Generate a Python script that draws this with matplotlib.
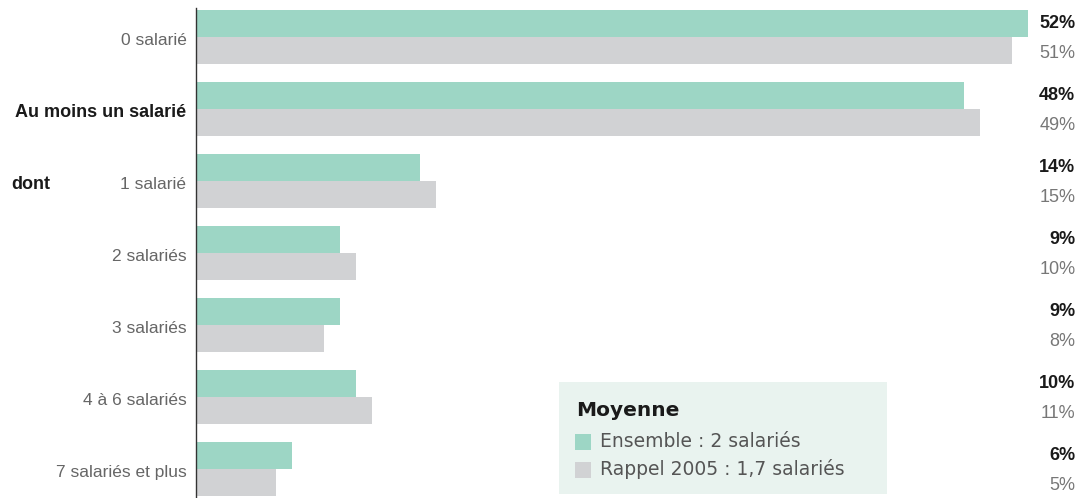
import matplotlib
matplotlib.use("Agg")
import matplotlib.pyplot as plt
import matplotlib.patches as mpatches

categories = ["0 salarié", "Au moins un salarié", "1 salarié", "2 salariés",
              "3 salariés", "4 à 6 salariés", "7 salariés et plus"]
ensemble = [52, 48, 14, 9, 9, 10, 6]
rappel_2005 = [51, 49, 15, 10, 8, 11, 5]
bold_rows = [1]

green = "#9dd6c5"
grey = "#d1d2d4"
narrow = ["Liberation Sans Narrow", "Liberation Sans", "DejaVu Sans"]

fig = plt.figure(figsize=(10.78, 4.98), dpi=100)
ax = fig.add_axes([196 / 1078, 0, 882 / 1078, 490 / 498])

h = 0.375
ys = list(range(len(categories)))
ax.barh([y - h / 2 for y in ys], ensemble, height=h, color=green)
ax.barh([y + h / 2 for y in ys], rappel_2005, height=h, color=grey)

ax.set_xlim(0, 882 / 16)
ax.set_ylim(6.4, -0.4)
for s in ["top", "right", "bottom"]:
    ax.spines[s].set_visible(False)
ax.spines["left"].set_color("#333333")
ax.spines["left"].set_linewidth(1)
ax.set_xticks([])
ax.set_yticks(ys)
ax.set_yticklabels([])
ax.tick_params(axis="y", length=0)

# category labels
for i, c in enumerate(categories):
    bold = i in bold_rows
    ax.text(-0.6, i + 0.05, c, ha="right", va="center", family=narrow,
            fontsize=13 if bold else 12.5,
            fontweight="bold" if bold else "normal",
            color="#1a1a1a" if bold else "#666666")
ax.text(-9.1, 2.05, "dont", ha="right", va="center", family=narrow,
        fontsize=13, fontweight="bold", color="#1a1a1a")

# value labels on the right
for i in ys:
    ax.text(0.997, i - h / 2, f"{ensemble[i]}%", transform=ax.get_yaxis_transform(),
            ha="right", va="center", family=narrow, fontsize=13,
            fontweight="bold", color="#1a1a1a")
    ax.text(0.997, i + h / 2 + 0.04, f"{rappel_2005[i]}%", transform=ax.get_yaxis_transform(),
            ha="right", va="center", family=narrow, fontsize=13, color="#777777")

# legend box
box = mpatches.Rectangle((559 / 1078, 4 / 498), 328 / 1078, 112 / 498,
                         transform=fig.transFigure, facecolor="#e9f3ef",
                         edgecolor="none", zorder=0)
fig.patches.append(box)
leg_font = ["DejaVu Sans"]
fig.text(576 / 1078, 88 / 498, "Moyenne", family=leg_font, fontsize=14.5,
         fontweight="bold", color="#1a1a1a", va="center")
fig.patches.append(mpatches.Rectangle((575 / 1078, 48 / 498), 16 / 1078, 16 / 498,
                                      transform=fig.transFigure, facecolor=green,
                                      edgecolor="none"))
fig.text(600 / 1078, 57 / 498, "Ensemble : 2 salariés", family=leg_font,
         fontsize=13.5, color="#555555", va="center")
fig.patches.append(mpatches.Rectangle((575 / 1078, 20 / 498), 16 / 1078, 16 / 498,
                                      transform=fig.transFigure, facecolor=grey,
                                      edgecolor="none"))
fig.text(600 / 1078, 29 / 498, "Rappel 2005 : 1,7 salariés", family=leg_font,
         fontsize=13.5, color="#555555", va="center")

fig.savefig("out.png", dpi=100)
